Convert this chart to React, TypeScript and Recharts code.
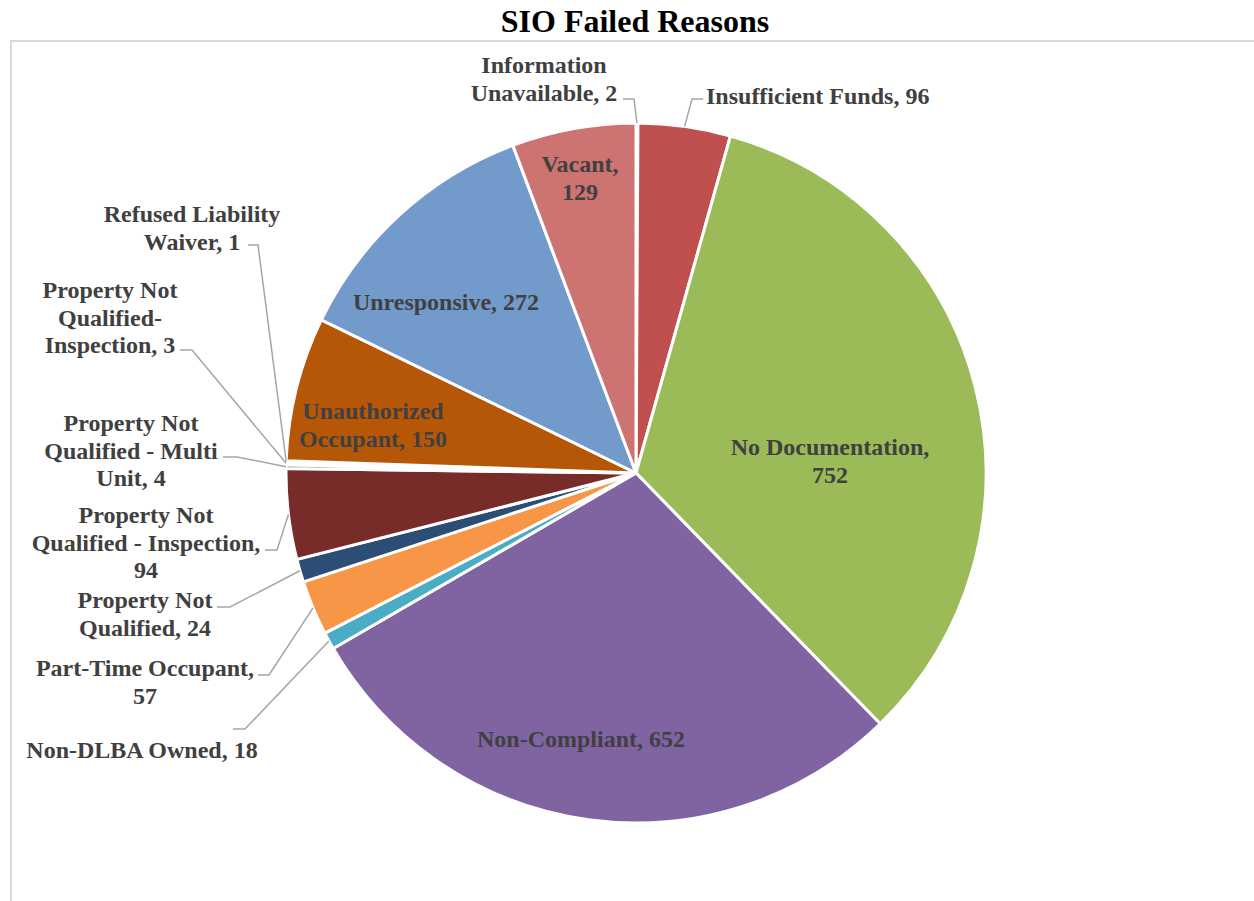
import { Cell, Pie, PieChart } from "recharts";

const reasons = [
  "Information Unavailable",
  "Insufficient Funds",
  "No Documentation",
  "Non-Compliant",
  "Non-DLBA Owned",
  "Part-Time Occupant",
  "Property Not Qualified",
  "Property Not Qualified - Inspection",
  "Property Not Qualified - Multi Unit",
  "Property Not Qualified-Inspection",
  "Refused Liability Waiver",
  "Unauthorized Occupant",
  "Unresponsive",
  "Vacant",
];

const counts = [2, 96, 752, 652, 18, 57, 24, 94, 4, 3, 1, 150, 272, 129];

const sliceColors = [
  "#4F81BD",
  "#C0504D",
  "#9BBB59",
  "#8064A2",
  "#4BACC6",
  "#F79646",
  "#2C4D75",
  "#772C2A",
  "#5F7530",
  "#4D3B62",
  "#276A7C",
  "#B65708",
  "#729ACA",
  "#CD7371",
];

// where Excel put each data label (text centre, first line), and the elbow of its leader line
type Spot = {
  x: number;
  y: number;
  lines: string[];
  anchor?: "start" | "middle";
  elbow?: [number, number, number];
};

const labelSpots: Spot[] = [
  { x: 544, y: 65, lines: ["Information", "Unavailable, 2"], elbow: [623, 634, 99] },
  { x: 706, y: 96, lines: ["Insufficient Funds, 96"], anchor: "start", elbow: [703, 692, 99] },
  { x: 830, y: 447, lines: ["No Documentation,", "752"] },
  { x: 581, y: 739, lines: ["Non-Compliant, 652"] },
  { x: 142, y: 750, lines: ["Non-DLBA Owned, 18"], elbow: [233, 245, 729] },
  { x: 145, y: 668, lines: ["Part-Time Occupant,", "57"], elbow: [258, 269, 675] },
  { x: 145, y: 600, lines: ["Property Not", "Qualified, 24"], elbow: [217, 230, 607] },
  { x: 146, y: 515, lines: ["Property Not", "Qualified - Inspection,", "94"], elbow: [265, 277, 550] },
  { x: 131, y: 423, lines: ["Property Not", "Qualified - Multi", "Unit, 4"], elbow: [223, 237, 457] },
  { x: 110, y: 290, lines: ["Property Not", "Qualified-", "Inspection, 3"], elbow: [180, 192, 350] },
  { x: 192, y: 214, lines: ["Refused Liability", "Waiver, 1"], elbow: [248, 258, 245] },
  { x: 373, y: 411, lines: ["Unauthorized", "Occupant, 150"] },
  { x: 446, y: 302, lines: ["Unresponsive, 272"] },
  { x: 580, y: 164, lines: ["Vacant,", "129"] },
];

const data = reasons.map((name, i) => ({ name, value: counts[i] }));

const RAD = Math.PI / 180;
const labelFont = "'Liberation Serif', 'Times New Roman', serif";

function renderLabel(props: any) {
  const { cx, cy, midAngle, outerRadius, index } = props;
  const spot = labelSpots[index];
  if (!spot) return null;
  let leader = null;
  if (spot.elbow) {
    const [x1, x2, y1] = spot.elbow;
    const ex = cx + outerRadius * Math.cos(-midAngle * RAD);
    const ey = cy + outerRadius * Math.sin(-midAngle * RAD);
    leader = (
      <polyline
        points={`${x1},${y1} ${x2},${y1} ${ex},${ey}`}
        fill="none"
        stroke="#A6A6A6"
        strokeWidth={1.5}
      />
    );
  }
  return (
    <g key={`lbl-${index}`}>
      {leader}
      <text
        x={spot.x}
        y={spot.y}
        textAnchor={spot.anchor ?? "middle"}
        fill="#404040"
        fontFamily={labelFont}
        fontWeight="bold"
        fontSize={24}
      >
        {spot.lines.map((line, i) => (
          <tspan key={i} x={spot.x} y={spot.y + i * 27.7} dominantBaseline="central">
            {line}
          </tspan>
        ))}
      </text>
    </g>
  );
}

export default function App() {
  return (
    <div
      style={{
        position: "absolute",
        left: 0,
        top: 0,
        width: 1254,
        height: 901,
        overflow: "hidden",
        background: "#fff",
      }}
    >
      <div
        style={{
          position: "absolute",
          left: 10,
          top: 40,
          width: 1300,
          height: 900,
          borderLeft: "2px solid #D9D9D9",
          borderTop: "2px solid #D9D9D9",
        }}
      />
      <div
        style={{
          position: "absolute",
          left: 0,
          top: 0,
          width: 1270,
          textAlign: "center",
          fontFamily: labelFont,
          fontWeight: "bold",
          fontSize: 32,
          lineHeight: "42px",
          color: "#000",
        }}
      >
        SIO Failed Reasons
      </div>
      <div style={{ position: "absolute", left: 0, top: 0 }}>
        <PieChart width={1254} height={901} margin={{ top: 0, right: 0, bottom: 0, left: 0 }}>
          <Pie
            data={data}
            dataKey="value"
            nameKey="name"
            cx={636}
            cy={473}
            outerRadius={350}
            startAngle={90}
            endAngle={-270}
            stroke="#fff"
            strokeWidth={3}
            label={renderLabel}
            labelLine={false}
            isAnimationActive={false}
          >
            {data.map((d, i) => (
              <Cell key={d.name} fill={sliceColors[i]} />
            ))}
          </Pie>
        </PieChart>
      </div>
    </div>
  );
}
